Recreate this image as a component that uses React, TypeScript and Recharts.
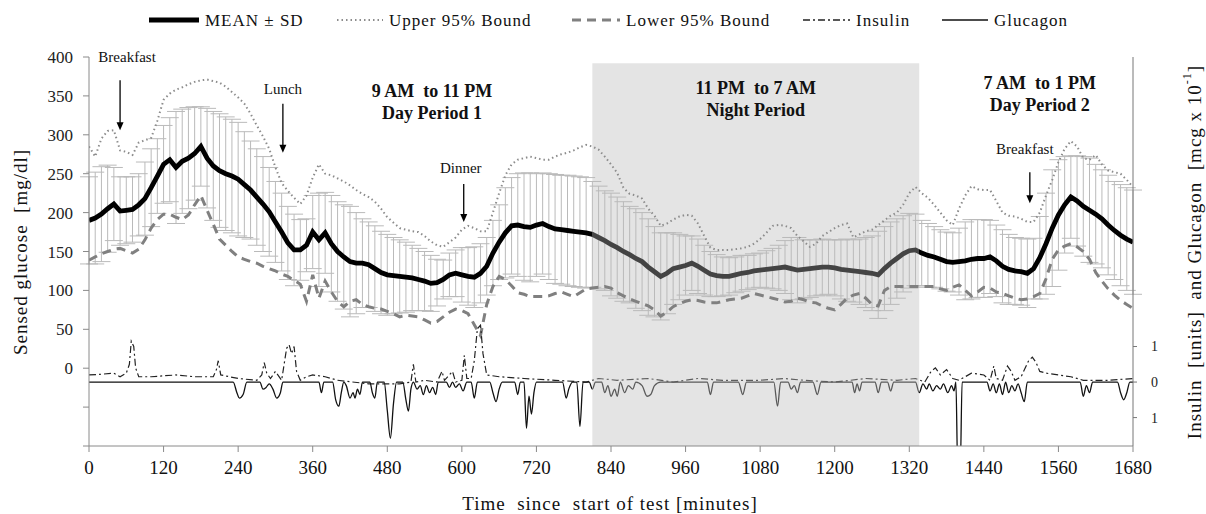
import React from 'react';
import {
  ComposedChart,
  Line,
  XAxis,
  YAxis,
  ErrorBar,
  ReferenceArea,
  ReferenceDot,
} from 'recharts';

// glucose statistics, one value every 10 minutes from 0 to 1680
const MEAN = [
  190, 193, 198, 205, 211, 202, 203, 204, 210, 218, 232, 247,
  262, 268, 258, 266, 270, 276, 285, 270, 260, 254, 250, 247,
  243, 236, 229, 220, 211, 201, 188, 175, 161, 152, 152, 158,
  175, 165, 174, 160, 150, 143, 137, 135, 135, 133, 128, 123,
  120, 119, 118, 117, 116, 114, 112, 109, 110, 114, 120, 122,
  120, 118, 117, 122, 131, 148, 162, 174, 183, 184, 182, 181,
  184, 186, 182, 179, 178, 177, 176, 175, 174, 172, 168, 164,
  159, 155, 150, 146, 141, 137, 130, 124, 118, 122, 128, 130,
  132, 135, 131, 126, 121, 119, 118, 118, 120, 122, 123, 125,
  126, 127, 128, 129, 130, 128, 126, 127, 128, 129, 130, 130,
  129, 127, 126, 125, 124, 123, 122, 120, 128, 135, 141, 147,
  151, 152, 148, 145, 143, 140, 137, 136, 137, 138, 140, 141,
  141, 143, 138, 131, 127, 125, 124, 122, 128, 142, 160, 180,
  197, 210, 220, 215, 208, 203, 198, 192, 184, 177, 171, 166,
  162,
];

const SD = [
  56, 59, 61, 56, 47, 44, 43, 42, 40, 47, 50, 48,
  50, 54, 72, 67, 65, 60, 51, 64, 70, 73, 73, 73,
  73, 68, 63, 62, 61, 57, 52, 50, 47, 46, 39, 34,
  47, 60, 52, 62, 64, 67, 71, 65, 57, 55, 55, 53,
  52, 49, 47, 45, 42, 40, 38, 36, 30, 25, 28, 30,
  35, 37, 39, 38, 37, 42, 48, 58, 62, 66, 69, 70,
  66, 65, 68, 70, 70, 71, 71, 71, 71, 68, 66, 64,
  66, 65, 64, 62, 64, 63, 62, 58, 56, 52, 46, 42,
  38, 35, 35, 32, 29, 27, 25, 24, 23, 23, 22, 22,
  22, 24, 26, 29, 34, 40, 42, 38, 37, 36, 36, 35,
  36, 38, 40, 40, 42, 45, 48, 56, 54, 53, 51, 49,
  48, 46, 42, 41, 39, 38, 38, 38, 43, 50, 51, 50,
  50, 47, 46, 47, 45, 43, 43, 44, 39, 53, 65, 75,
  71, 62, 53, 58, 64, 67, 64, 63, 64, 63, 65, 66,
  67,
];

const UPPER95 = [
  285, 272, 295, 305, 306, 280, 278, 274, 290, 293, 296, 318,
  345, 353, 358, 361, 365, 368, 370, 371, 369, 367, 362, 355,
  348, 340, 327, 312, 298, 282, 258, 238, 228, 219, 211, 222,
  245, 262, 250, 248, 244, 240, 235, 229, 224, 220, 214, 205,
  194, 187, 180, 178, 176, 175, 170, 163, 158, 156, 162, 168,
  178, 183, 180, 176, 176, 200, 225, 248, 262, 268, 270, 272,
  270, 268, 268, 272, 275, 277, 280, 284, 287, 285, 281, 272,
  262, 251, 232, 224, 222, 218, 205, 196, 183, 186, 191, 195,
  197, 196, 186, 170, 155, 152, 152, 152, 153, 154, 156, 160,
  166, 174, 183, 184, 183, 180, 170, 163, 156, 160, 170, 175,
  180, 184, 186, 168, 172, 176, 178, 184, 190, 196, 200, 210,
  225, 233, 225, 219, 210, 200, 190, 184, 205, 222, 234, 230,
  229, 229, 215, 200, 196, 195, 192, 188, 188, 200, 222, 242,
  265, 282, 292, 285, 270, 268, 274, 262, 254, 252, 250, 242,
  233,
];

const LOWER95 = [
  139, 143, 147, 150, 153, 154, 151, 148, 153, 165, 180, 191,
  198, 198, 194, 191, 197, 210, 222, 203, 185, 166, 158, 150,
  143, 140, 137, 135, 131, 128, 125, 121, 118, 113, 108, 86,
  120, 90, 112, 98, 86, 79, 86, 88, 82, 79, 77, 76,
  73, 70, 66, 68, 67, 66, 62, 58, 60, 66, 72, 76,
  74, 70, 56, 42, 82, 105, 118, 114, 106, 97, 95, 92,
  92, 92, 93, 96, 98, 95, 92, 97, 102, 103, 104, 105,
  103, 97, 93, 89, 86, 83, 80, 75, 67, 72, 79, 83,
  86, 88, 87, 85, 84, 84, 86, 88, 89, 90, 93, 96,
  94, 92, 90, 88, 85, 86, 90, 88, 85, 84, 80, 77,
  75, 82, 90, 94, 96, 90, 82, 80, 100, 105, 105, 105,
  105, 105, 105, 105, 105, 102, 100, 104, 107, 100, 93, 98,
  104, 103, 98, 96, 93, 90, 88, 89, 92, 96, 115, 140,
  152, 157, 160, 156, 150, 140, 123, 112, 102, 94, 87, 82,
  77,
];

// [minute, units]
const INSULIN: [number, number][] = [
  [0, 0.2], [20, 0.22], [40, 0.25], [50, 0.15], [60, 0.25], [65, 0.5], [68, 1.15],
  [72, 1.0], [75, 0.4], [80, 0.15], [100, 0.15], [140, 0.2], [170, 0.15], [200, 0.15],
  [205, 0.35], [208, 0.6], [212, 0.2], [240, 0.1], [270, 0.05], [278, 0.2], [282, 0.55],
  [286, 0.25], [292, 0.1], [300, 0.3], [310, 0.05], [318, 0.95], [322, 1.05], [326, 0.8],
  [330, 1.0], [334, 0.3], [340, 0.05], [350, 0.15], [360, 0.2], [380, 0.15], [400, 0.05],
  [450, -0.05], [500, -0.05], [518, 0], [522, 0.5], [526, 0], [540, 0.05], [560, 0],
  [568, 0.3], [572, 0.05], [585, 0.3], [590, 0], [600, 0.05], [604, 0.75], [608, 0.1],
  [615, 0.1], [620, 0.6], [625, 1.5], [630, 1.6], [634, 0.8], [640, 0.2], [660, 0.15],
  [700, 0.1], [750, 0.05], [800, 0], [820, 0.1], [850, 0.05], [900, 0.1], [940, 0],
  [980, 0.1], [1020, 0.05], [1080, 0.05], [1120, 0.1], [1150, 0.05], [1200, 0],
  [1250, 0.1], [1300, 0.05], [1330, 0.1], [1345, 0], [1355, 0.3], [1362, 0.4],
  [1370, 0.2], [1380, 0.35], [1390, 0.1], [1400, 0.05], [1420, 0.25], [1440, 0.2],
  [1450, 0.05], [1456, 0.45], [1460, 0.1], [1470, 0.05], [1478, 0.45], [1484, 0.3],
  [1490, 0.05], [1500, 0.15], [1512, 0.6], [1518, 0.7], [1524, 0.55], [1530, 0.3],
  [1540, 0.25], [1560, 0.2], [1580, 0.15], [1600, 0.05], [1640, 0.05], [1680, 0.1],
];

// [minute, mcg x 10^-1], drawn downward
const GLUCAGON: [number, number][] = [
  [0, 0], [232, 0], [238, -0.3], [242, -0.45], [248, -0.35], [254, 0], [275, 0],
  [280, -0.2], [285, -0.15], [290, -0.05], [296, -0.2], [302, -0.45], [308, -0.3],
  [312, 0], [370, 0], [374, -0.3], [378, 0], [392, 0], [397, -0.5], [402, -0.68],
  [406, -0.3], [410, 0], [414, -0.1], [420, -0.45], [425, -0.3], [428, -0.45],
  [432, -0.2], [436, -0.35], [440, 0], [452, 0], [456, -0.3], [460, -0.45], [464, 0],
  [475, 0], [480, -0.8], [485, -1.58], [490, -0.6], [495, 0], [505, 0], [510, -0.5],
  [514, -0.82], [518, -0.2], [522, 0], [528, -0.2], [533, -0.1], [538, -0.35],
  [543, -0.1], [548, -0.3], [553, -0.15], [558, -0.35], [562, 0], [575, 0],
  [580, -0.15], [585, 0], [590, -0.15], [596, -0.05], [602, -0.25], [608, 0],
  [615, 0], [620, -0.45], [625, 0], [645, 0], [650, -0.3], [655, -0.55], [660, -0.2],
  [665, 0], [685, 0], [690, -0.35], [694, 0], [700, 0], [704, -1.3], [708, -0.4],
  [712, -0.9], [716, -0.3], [720, 0], [762, 0], [768, -0.45], [772, -0.2], [778, 0],
  [785, 0], [790, -1.25], [795, 0], [805, 0], [810, -0.2], [815, 0], [825, 0],
  [830, -0.3], [835, -0.1], [840, -0.4], [846, -0.2], [850, -0.4], [855, 0],
  [862, -0.3], [868, -0.1], [875, -0.2], [880, 0], [890, -0.1], [898, -0.4],
  [904, -0.35], [910, -0.1], [920, 0], [995, 0], [1000, -0.35], [1005, 0], [1045, 0],
  [1052, -0.35], [1058, 0], [1102, 0], [1108, -0.68], [1113, 0], [1125, 0],
  [1130, -0.2], [1135, -0.1], [1140, -0.3], [1145, 0], [1165, 0], [1172, -0.35],
  [1178, 0], [1228, 0], [1232, -0.3], [1236, -0.05], [1240, -0.25], [1244, 0],
  [1265, 0], [1270, -0.3], [1275, 0], [1285, 0], [1290, -0.25], [1295, 0], [1330, 0],
  [1336, -0.3], [1342, -0.05], [1348, -0.2], [1352, -0.05], [1358, -0.25],
  [1364, -0.1], [1370, -0.2], [1375, -0.05], [1382, -0.3], [1388, -0.1],
  [1392, -0.25], [1395, 0], [1398, -2.5], [1402, -2.5], [1405, 0], [1445, 0],
  [1450, -0.25], [1455, -0.05], [1460, -0.3], [1465, -0.05], [1470, -0.35], [1475, 0],
  [1480, -0.3], [1485, -0.1], [1490, -0.25], [1495, -0.05], [1500, -0.3],
  [1505, -0.55], [1510, 0], [1595, 0], [1600, -0.4], [1605, -0.1], [1610, -0.3],
  [1615, 0], [1655, 0], [1660, -0.3], [1665, -0.5], [1670, -0.3], [1675, 0], [1680, 0],
];

const X_TICKS = [0, 120, 240, 360, 480, 600, 720, 840, 960, 1080, 1200, 1320, 1440, 1560, 1680];
const Y_TICKS = [-100, -50, 0, 50, 100, 150, 200, 250, 300, 350, 400];
const R_TICKS = [-1, 0, 1];

const NIGHT = { from: 810, to: 1336, top: 392 };
const X_MAX = 1680;

const MEALS = [
  { label: 'Breakfast', t: 50, tip: 306 },
  { label: 'Lunch', t: 312, tip: 277 },
  { label: 'Dinner', t: 603, tip: 188 },
  { label: 'Breakfast', t: 1514, tip: 212 },
];
// arrow length, gap to label, label shift (px)
const MEAL_LAYOUT = [
  { len: 50, gap: 23, dx: 7 },
  { len: 49, gap: 15, dx: 0 },
  { len: 38, gap: 16, dx: -3 },
  { len: 31, gap: 23, dx: -5 },
];

const PERIODS = [
  { t: 552, y: 356, lines: ['9 AM  to 11 PM', 'Day Period 1'] },
  { t: 1073, y: 360, lines: ['11 PM  to 7 AM', 'Night Period'] },
  { t: 1530, y: 367, lines: ['7 AM  to 1 PM', 'Day Period 2'] },
];

const LEGEND = [
  { label: 'MEAN ± SD', x: 149, w: 50, stroke: '#000', width: 5, dash: undefined as string | undefined },
  { label: 'Upper 95% Bound', x: 337, w: 46, stroke: '#8c8c8c', width: 2, dash: '1.5 3' },
  { label: 'Lower 95% Bound', x: 572, w: 48, stroke: '#808080', width: 3, dash: '9 6' },
  { label: 'Insulin', x: 803, w: 47, stroke: '#222', width: 1.3, dash: '7 3 2 3' },
  { label: 'Glucagon', x: 942, w: 46, stroke: '#111', width: 1.4, dash: undefined },
];

const rows = MEAN.map((m, i) => ({
  t: i * 10,
  mean: m,
  sd: SD[i],
  upper: UPPER95[i],
  lower: LOWER95[i],
}));
const insulinData = INSULIN.map(([t, v]) => ({ t, v }));
const glucagonData = GLUCAGON.map(([t, v]) => ({ t, v }));

const FONT = "'Liberation Serif', 'Times New Roman', serif";

// horizontal gradient that switches colour while a full-width line is under the night shading
const NightGradient: React.FC<{ id: string; day: string; night: string }> = ({ id, day, night }) => {
  const a = `${((NIGHT.from / X_MAX) * 100).toFixed(2)}%`;
  const b = `${((NIGHT.to / X_MAX) * 100).toFixed(2)}%`;
  return (
    <linearGradient id={id} x1="0" y1="0" x2="1" y2="0">
      <stop offset="0%" stopColor={day} />
      <stop offset={a} stopColor={day} />
      <stop offset={a} stopColor={night} />
      <stop offset={b} stopColor={night} />
      <stop offset={b} stopColor={day} />
      <stop offset="100%" stopColor={day} />
    </linearGradient>
  );
};

const App: React.FC = () => {
  return (
    <div
      style={{
        position: 'absolute',
        left: 0,
        top: 0,
        width: 1206,
        height: 514,
        background: '#fff',
        fontFamily: FONT,
      }}
    >
      <svg width={0} height={0} style={{ position: 'absolute' }}>
        <defs>
          <NightGradient id="meanStroke" day="#000" night="#444" />
          <NightGradient id="glucStroke" day="#111" night="#5a5a5a" />
          <NightGradient id="insStroke" day="#222" night="#5f5f5f" />
        </defs>
      </svg>
      <ComposedChart
        width={1206}
        height={514}
        data={rows}
        margin={{ top: 57, right: 0, bottom: 0, left: 0 }}
        style={{ fontFamily: FONT }}
      >
        <XAxis
          type="number"
          dataKey="t"
          domain={[0, X_MAX]}
          ticks={X_TICKS}
          interval={0}
          allowDataOverflow
          height={68}
          tickSize={6}
          tickMargin={9}
          axisLine={{ stroke: '#8a8a8a' }}
          tickLine={{ stroke: '#8a8a8a' }}
          tick={{ fill: '#111', fontSize: 19, fontFamily: FONT }}
        />
        <YAxis
          yAxisId="l"
          width={89}
          domain={[-100, 400]}
          ticks={Y_TICKS}
          interval={0}
          allowDataOverflow
          tickSize={6}
          tickMargin={10}
          tickFormatter={(v: number) => (v < 0 ? '' : String(v))}
          axisLine={{ stroke: '#8a8a8a' }}
          tickLine={{ stroke: '#8a8a8a' }}
          tick={{ fill: '#222', fontSize: 17, fontFamily: FONT }}
        />
        <YAxis
          yAxisId="r"
          orientation="right"
          width={73}
          domain={[-1.8, 9.15]}
          ticks={R_TICKS}
          interval={0}
          allowDataOverflow
          tickSize={4}
          tickMargin={14}
          tickFormatter={(v: number) => String(Math.abs(v))}
          axisLine={{ stroke: '#777' }}
          tickLine={{ stroke: '#777' }}
          tick={{ fill: '#222', fontSize: 14, fontFamily: FONT }}
        />

        <ReferenceArea
          yAxisId="l"
          x1={NIGHT.from}
          x2={NIGHT.to}
          y1={-100}
          y2={NIGHT.top}
          fill="#e4e4e4"
          fillOpacity={1}
          stroke="none"
        />

        {/* SD bars drawn behind the curves */}
        <Line
          yAxisId="l"
          dataKey="mean"
          stroke="none"
          dot={false}
          activeDot={false}
          isAnimationActive={false}
        >
          <ErrorBar dataKey="sd" direction="y" width={9} stroke="#bababa" strokeWidth={1} />
        </Line>
        <Line
          yAxisId="l"
          dataKey="upper"
          stroke="#8c8c8c"
          strokeWidth={2}
          strokeDasharray="1.5 3"
          dot={false}
          activeDot={false}
          isAnimationActive={false}
        />
        <Line
          yAxisId="l"
          dataKey="lower"
          stroke="#808080"
          strokeWidth={3}
          strokeDasharray="9 6"
          dot={false}
          activeDot={false}
          isAnimationActive={false}
        />
        <Line
          yAxisId="r"
          data={insulinData}
          dataKey="v"
          stroke="url(#insStroke)"
          strokeWidth={1.2}
          strokeDasharray="7 3 2 3"
          dot={false}
          activeDot={false}
          isAnimationActive={false}
        />
        <Line
          yAxisId="r"
          data={glucagonData}
          dataKey="v"
          type="monotone"
          stroke="url(#glucStroke)"
          strokeWidth={1.3}
          dot={false}
          activeDot={false}
          isAnimationActive={false}
        />
        <Line
          yAxisId="l"
          dataKey="mean"
          stroke="url(#meanStroke)"
          strokeWidth={4.8}
          dot={false}
          activeDot={false}
          isAnimationActive={false}
        />

        {MEALS.map((m, i) => {
          const lay = MEAL_LAYOUT[i];
          return (
            <ReferenceDot
              key={`meal-${i}`}
              yAxisId="l"
              x={m.t}
              y={m.tip}
              shape={(p: any) => (
                <g>
                  <line x1={p.cx} y1={p.cy - lay.len} x2={p.cx} y2={p.cy - 7} stroke="#000" strokeWidth={1.3} />
                  <path d={`M${p.cx - 3.5},${p.cy - 8} L${p.cx + 3.5},${p.cy - 8} L${p.cx},${p.cy} Z`} fill="#000" />
                  <text
                    x={p.cx + lay.dx}
                    y={p.cy - lay.len - lay.gap}
                    textAnchor="middle"
                    dominantBaseline="central"
                    fontSize={15}
                    fontFamily={FONT}
                    fill="#111"
                  >
                    {m.label}
                  </text>
                </g>
              )}
            />
          );
        })}

        {PERIODS.map((p, i) => (
          <ReferenceDot
            key={`period-${i}`}
            yAxisId="l"
            x={p.t}
            y={p.y}
            shape={(s: any) => (
              <g>
                {p.lines.map((line, j) => (
                  <text
                    key={j}
                    x={s.cx}
                    y={s.cy + j * 22}
                    textAnchor="middle"
                    dominantBaseline="central"
                    fontSize={18}
                    fontWeight="bold"
                    fontFamily={FONT}
                    fill="#111"
                    style={{ whiteSpace: 'pre' }}
                  >
                    {line}
                  </text>
                ))}
              </g>
            )}
          />
        ))}
      </ComposedChart>

      <svg
        width={1206}
        height={514}
        style={{ position: 'absolute', left: 0, top: 0, pointerEvents: 'none' }}
        fontFamily={FONT}
      >
        {LEGEND.map((item) => (
          <g key={item.label}>
            <line
              x1={item.x}
              x2={item.x + item.w}
              y1={20}
              y2={20}
              stroke={item.stroke}
              strokeWidth={item.width}
              strokeDasharray={item.dash}
            />
            <text
              x={item.x + item.w + 6}
              y={20}
              dominantBaseline="central"
              fontSize={17}
              fontFamily={FONT}
              letterSpacing={1}
              fill="#111"
            >
              {item.label}
            </text>
          </g>
        ))}
        <text
          x={20}
          y={252}
          transform="rotate(-90 20 252)"
          textAnchor="middle"
          dominantBaseline="central"
          fontSize={19}
          fontFamily={FONT}
          letterSpacing={1}
          fill="#111"
          style={{ whiteSpace: 'pre' }}
        >
          Sensed glucose  [mg/dl]
        </text>
        <text
          x={1194}
          y={252}
          transform="rotate(-90 1194 252)"
          textAnchor="middle"
          dominantBaseline="central"
          fontSize={19}
          fontFamily={FONT}
          letterSpacing={1}
          fill="#111"
          style={{ whiteSpace: 'pre' }}
        >
          <tspan>Insulin  [units]  and Glucagon  [mcg x 10</tspan>
          <tspan dy={-7} fontSize={12}>-1</tspan>
          <tspan dy={7}>]</tspan>
        </text>
        <text
          x={610}
          y={503}
          textAnchor="middle"
          dominantBaseline="central"
          fontSize={19}
          fontFamily={FONT}
          letterSpacing={1}
          fill="#111"
          style={{ whiteSpace: 'pre' }}
        >
          Time  since  start of test [minutes]
        </text>
      </svg>
    </div>
  );
};

export default App;
